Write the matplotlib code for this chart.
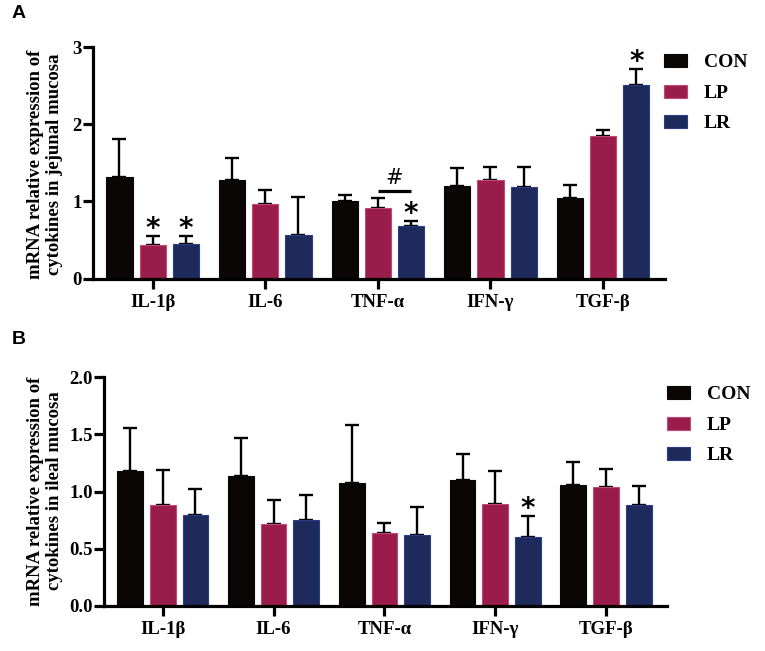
"""Cytokine mRNA expression in jejunal (A) and ileal (B) mucosa."""

import matplotlib
matplotlib.use("Agg")
import matplotlib.pyplot as plt  # noqa: E402
import numpy as np  # noqa: E402

plt.rcParams["font.family"] = ["Liberation Serif", "DejaVu Serif"]
plt.rcParams["font.weight"] = "bold"

cytokines = ["IL-1β", "IL-6", "TNF-α", "IFN-γ", "TGF-β"]
groups = ["CON", "LP", "LR"]
colors = {"CON": "#0b0606", "LP": "#9a1c4a", "LR": "#1e2a5c"}
edges = {"CON": "#0b0606", "LP": "#c04a75", "LR": "#2a3d88"}

# panel A: jejunal mucosa (mean, upper SD)
jej_mean = {
    "CON": [1.32, 1.28, 1.00, 1.20, 1.04],
    "LP": [0.44, 0.96, 0.92, 1.28, 1.85],
    "LR": [0.45, 0.56, 0.68, 1.18, 2.51],
}
jej_err = {
    "CON": [0.49, 0.28, 0.08, 0.23, 0.17],
    "LP": [0.11, 0.19, 0.12, 0.16, 0.08],
    "LR": [0.10, 0.49, 0.06, 0.26, 0.20],
}
# (group, cytokine index) marked with *
jej_stars = [("LP", 0), ("LR", 0), ("LR", 2), ("LR", 4)]

# panel B: ileal mucosa
ile_mean = {
    "CON": [1.18, 1.14, 1.08, 1.10, 1.06],
    "LP": [0.88, 0.72, 0.64, 0.89, 1.04],
    "LR": [0.80, 0.75, 0.62, 0.60, 0.88],
}
ile_err = {
    "CON": [0.38, 0.33, 0.50, 0.23, 0.20],
    "LP": [0.31, 0.21, 0.09, 0.29, 0.16],
    "LR": [0.22, 0.22, 0.25, 0.19, 0.17],
}
ile_stars = [("LR", 3)]

OFFSETS = {"CON": -0.295, "LP": 0.0, "LR": 0.295}
WIDTH = 0.232


def draw_panel(ax, means, errs, stars, ymax, yticks, fmt, star_off):
    x = np.arange(len(cytokines))
    for g in groups:
        m = np.array(means[g])
        e = np.array(errs[g])
        ax.bar(x + OFFSETS[g], m, WIDTH, color=colors[g], edgecolor=edges[g],
               linewidth=0.8, label=g, zorder=2)
        ax.errorbar(x + OFFSETS[g], m, yerr=[np.zeros_like(e), e], fmt="none",
                    ecolor="black", elinewidth=1.7, capsize=4.8, capthick=1.7,
                    zorder=1)
    for g, i in stars:
        top = means[g][i] + errs[g][i]
        ax.annotate("*", xy=(i + OFFSETS[g], top), xytext=(0, star_off),
                    textcoords="offset points", ha="center", va="center",
                    fontsize=20, family="DejaVu Sans", fontweight="bold")
    ax.set_xlim(-0.53, 4.55)
    ax.set_ylim(0, ymax)
    ax.set_yticks(yticks)
    ax.set_yticklabels([fmt.format(v) for v in yticks])
    ax.set_xticks(x)
    ax.set_xticklabels(cytokines)
    for s in ("top", "right"):
        ax.spines[s].set_visible(False)
    for s in ("left", "bottom"):
        ax.spines[s].set_linewidth(2.3)
    ax.tick_params(axis="both", width=2.3, length=7, labelsize=13.5)
    ax.tick_params(axis="y", pad=1)
    ax.tick_params(axis="x", pad=4)
    for lab in ax.get_xticklabels() + ax.get_yticklabels():
        lab.set_fontweight("bold")
    return x


W, H = 765, 651
fig = plt.figure(figsize=(W / 100, H / 100), dpi=100)

axA = fig.add_axes([93 / W, 1 - 278.5 / H, 572 / W, 231.5 / H])
draw_panel(axA, jej_mean, jej_err, jej_stars, 3, [0, 1, 2, 3], "{:.0f}", 5)
# bracket between LP and LR for TNF-α with #
axA.plot([2 + OFFSETS["LP"], 2 + OFFSETS["LR"]], [1.14, 1.14], color="black",
         lw=2.3, solid_capstyle="butt")
axA.text(2 + (OFFSETS["LP"] + OFFSETS["LR"]) / 2, 1.17, "#", ha="center",
         va="bottom", fontsize=15, family="DejaVu Sans", fontweight="normal")

axB = fig.add_axes([104 / W, 1 - 606 / H, 563 / W, 228.7 / H])
draw_panel(axB, ile_mean, ile_err, ile_stars, 2.0,
           [0.0, 0.5, 1.0, 1.5, 2.0], "{:.1f}", 5)

leg_kw = dict(frameon=False, handlelength=1.2, handleheight=0.65,
              handletextpad=0.85, labelspacing=0.68, borderpad=0,
              borderaxespad=0, loc="upper left",
              prop={"weight": "bold", "size": 14})
axA.legend(bbox_to_anchor=(664 / W, 1 - 54 / H), bbox_transform=fig.transFigure,
           **leg_kw)
axB.legend(bbox_to_anchor=(667 / W, 1 - 386 / H), bbox_transform=fig.transFigure,
           **leg_kw)

ylab_kw = dict(rotation=90, ha="center", va="center", fontsize=13.5,
               fontweight="bold", linespacing=1.1)
fig.text(45 / W, 1 - 164 / H, "mRNA relative expression of\ncytokines in jejunal mucosa",
         **ylab_kw)
fig.text(45 / W, 1 - 491 / H, "mRNA relative expression of\ncytokines in ileal mucosa",
         **ylab_kw)

fig.text(12 / W, 1 - 5 / H, "A", family="Liberation Sans", fontweight="bold",
         fontsize=14, va="top", ha="left")
fig.text(12 / W, 1 - 331 / H, "B", family="Liberation Sans", fontweight="bold",
         fontsize=14, va="top", ha="left")

fig.savefig("out.png", dpi=100)
plt.close(fig)
